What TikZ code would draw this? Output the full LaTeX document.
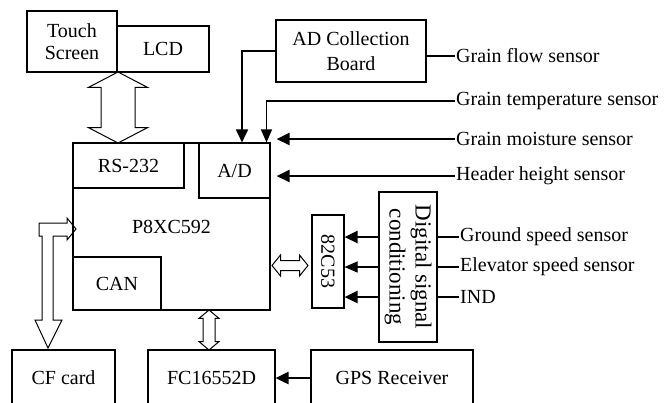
\documentclass[tikz,border=0pt]{standalone}
\usepackage{fontspec}
\setmainfont{Liberation Serif}
\usetikzlibrary{arrows.meta,shapes.arrows}
\begin{document}
\begin{tikzpicture}[x=1pt, y=-1pt,
  font=\fontsize{20}{22}\selectfont,
  box/.style={draw, line width=1.1pt, inner sep=0pt, align=center},
  lbl/.style={anchor=west, inner sep=1pt},
  thk/.style={line width=2.6pt, -{Triangle[length=13pt,width=12pt]}},
  med/.style={line width=1.8pt, -{Triangle[length=13pt,width=12pt]}},
  thn/.style={line width=1.1pt, -{Triangle[length=13pt,width=11pt]}},
  wire/.style={line width=1.1pt},
  hollow/.style={draw, line width=1pt, shape=double arrow, inner xsep=0pt}
]
  \useasboundingbox (0,0) rectangle (668,402);
  % top row
  \node[box, minimum width=90, minimum height=61] (touch) at (72,41.5) {Touch\\Screen};
  \node[box, minimum width=92, minimum height=46] (lcd) at (163,49) {LCD};
  \node[box, minimum width=150, minimum height=62] (board) at (351,51)
        {AD Collection\\[3pt]Board};
  % microcontroller
  \node[box, minimum width=197, minimum height=167] (main) at (171.5,226.5) {P8XC592};
  \node[box, minimum width=111, minimum height=45] (rs) at (128.5,165.5) {RS-232};
  \node[box, minimum width=71, minimum height=55] (ad) at (234.5,170.5) {A/D};
  \node[box, minimum width=88, minimum height=53] (can) at (117,283.5) {CAN};
  % counter and conditioning
  \node[box, rotate=-90, minimum width=93, minimum height=32] (c53) at (328,261.5) {82C53};
  \node[box, rotate=-90, minimum width=150, minimum height=58,
        font=\fontsize{23}{26}\selectfont] (dsc) at (408,267) {Digital signal\\conditioning};
  % bottom row
  \node[box, minimum width=103, minimum height=56] (cf) at (63.5,378) {CF card};
  \node[box, minimum width=127, minimum height=56] (fc) at (211.5,378) {FC16552D};
  \node[box, minimum width=162, minimum height=56] (gps) at (392,378) {GPS Receiver};
  % sensors
  \node[lbl] (flow) at (455,56) {Grain flow sensor};
  \node[lbl] (temp) at (455,101) {Grain temperature sensor};
  \node[lbl] (moist) at (455,139) {Grain moisture sensor};
  \node[lbl] (header) at (455,176) {Header height sensor};
  \node[lbl] (ground) at (459,237) {Ground speed sensor};
  \node[lbl] (elev) at (459,267) {Elevator speed sensor};
  \node[lbl] (ind) at (459,297) {IND};
  % hollow buses
  \node[hollow, rotate=90, minimum height=71, inner ysep=16.5,
        double arrow head extend=12.5, double arrow tip angle=125] (busrs) at (118,107.5) {};
  \node[hollow, minimum height=36, inner ysep=4.5,
        double arrow head extend=5.5, double arrow tip angle=102] (busc) at (290,265.5) {};
  \node[hollow, rotate=90, minimum height=40, inner ysep=5.5,
        double arrow head extend=4, double arrow tip angle=100] (busfc) at (209,330) {};
  \draw[line width=1pt] (39,223) -- (67,223) -- (67,218) -- (76,229) -- (67,240)
        -- (67,236) -- (53,236) -- (53,320) -- (62,320) -- (48,348) -- (35,320)
        -- (42,320) -- (42,236) -- (39,236) -- cycle;
  % analog inputs
  \draw[med] (board.west) -| ([xshift=7.5]ad.north);
  \draw[thn] (temp.west) -| ([xshift=32]ad.north);
  \draw[thk, shorten >=6pt] (moist.west) -- (moist.west -| ad.east);
  \draw[thk, shorten >=6pt] (header.west) -- (header.west -| ad.east);
  \draw[wire] (flow.west) -- (flow.west -| board.east);
  % digital inputs
  \draw[wire] (ground.west) -- (ground.west -| dsc.north);
  \draw[wire] (elev.west) -- (elev.west -| dsc.north);
  \draw[wire] (ind.west) -- (ind.west -| dsc.north);
  \draw[thk] (ground.west -| dsc.south) -- (ground.west -| c53.north);
  \draw[thn] (elev.west -| dsc.south) -- (elev.west -| c53.north);
  \draw[thk] (ind.west -| dsc.south) -- (ind.west -| c53.north);
  \draw[thk] (gps.west) -- (fc.east);
\end{tikzpicture}
\end{document}
